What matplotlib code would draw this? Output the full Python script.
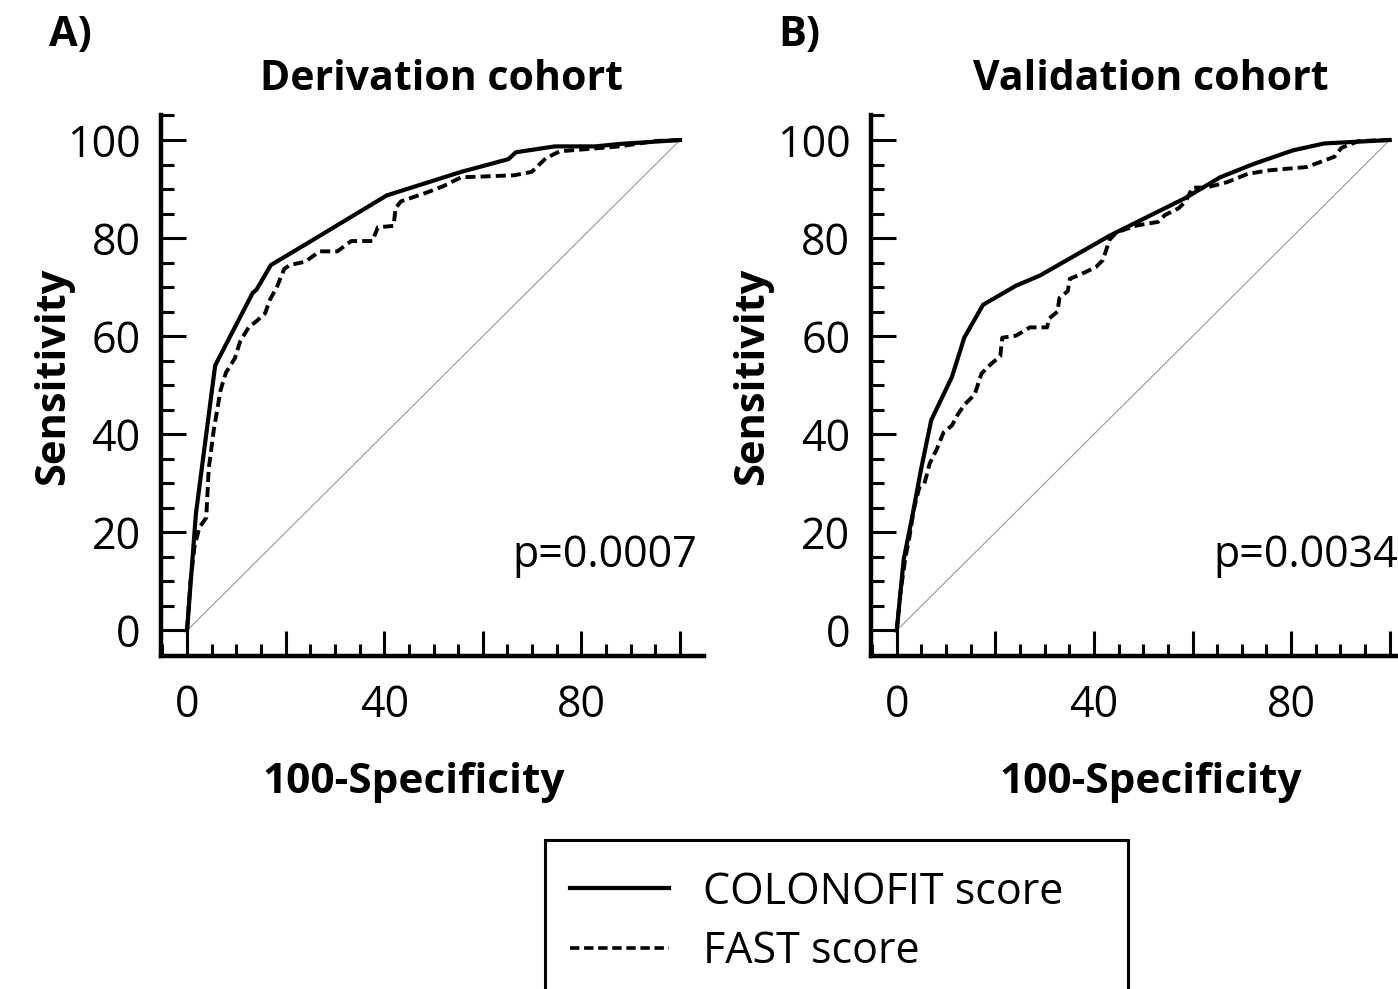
import matplotlib
matplotlib.use("Agg")
import matplotlib.pyplot as plt
from matplotlib.lines import Line2D
from matplotlib.patches import Rectangle
from matplotlib.ticker import MultipleLocator

plt.rcParams["font.family"] = ["Open Sans", "DejaVu Sans"]

# Derivation cohort (panel A)
deriv_colonofit_x = [0, 1.8, 5.7, 6.4, 13.3, 14.1, 17.0, 24.0, 40.5, 55.6, 65.2, 66.7, 74.6, 82.8, 87.8, 100]
deriv_colonofit_y = [0, 23.8, 54.0, 55.4, 68.8, 69.5, 74.5, 78.7, 88.7, 93.5, 96.1, 97.5, 98.7, 98.7, 99.2, 100]
deriv_fast_x = [0, 0.7, 1.5, 2.5, 3.9, 4.4, 5.4, 6.8, 7.9, 9.7, 10.8, 12.5, 14.0, 15.8, 16.8, 18.3,
                19.7, 20.8, 24.0, 26.9, 30.5, 33.3, 37.6, 38.7, 41.9, 42.3, 43.4, 48.4, 52.0, 55.6,
                66.3, 69.9, 72.8, 75.6, 87.8, 95.0, 100]
deriv_fast_y = [0, 10.0, 17.0, 21.0, 23.0, 33.0, 40.7, 49.0, 52.6, 55.5, 59.0, 61.8, 63.0, 64.6, 67.4, 70.2,
                73.7, 74.5, 75.2, 77.3, 77.3, 79.4, 79.4, 82.2, 82.5, 86.1, 87.5, 89.2, 90.6, 92.4,
                92.8, 93.5, 96.3, 97.7, 98.7, 99.8, 100]

# Validation cohort (panel B)
valid_colonofit_x = [0, 1.4, 3.2, 4.9, 7.0, 11.2, 13.7, 17.5, 24.2, 29.1, 43.2, 58.6, 65.6, 72.6, 80.4, 86.7, 100]
valid_colonofit_y = [0, 14.4, 23.5, 32.7, 42.9, 51.7, 59.7, 66.4, 70.3, 72.4, 80.5, 88.2, 92.4, 95.2, 97.9, 99.3, 100]
valid_fast_x = [0, 0.7, 1.8, 2.5, 3.5, 4.6, 5.6, 6.7, 8.1, 9.5, 11.2, 12.3, 13.7, 15.8, 17.2, 19.3,
                21.0, 21.4, 24.2, 27.0, 30.5, 30.9, 32.6, 33.0, 34.7, 35.1, 37.5, 40.4, 41.8, 43.2,
                44.6, 48.8, 53.0, 54.4, 57.2, 58.6, 60.0, 62.8, 67.0, 71.2, 75.4, 83.2, 88.8, 90.2,
                93.7, 100]
valid_fast_y = [0, 7.4, 15.1, 18.6, 24.9, 29.2, 29.9, 34.1, 36.9, 40.4, 41.8, 43.9, 46.0, 48.1, 52.4, 54.5,
                55.9, 59.7, 60.1, 61.8, 61.8, 63.6, 65.0, 67.8, 69.2, 71.7, 72.7, 74.1, 75.5, 79.7,
                81.2, 82.6, 83.3, 84.7, 86.1, 87.5, 90.3, 90.3, 91.4, 93.1, 93.8, 94.5, 96.6, 98.4,
                99.8, 100]

panel_titles = ["Derivation cohort", "Validation cohort"]
panel_letters = ["A)", "B)"]
p_values = ["p=0.0007", "p=0.0034"]
legend_labels = ["COLONOFIT score", "FAST score"]

W, H = 1398, 989
fig = plt.figure(figsize=(W / 100, H / 100), dpi=100)

DASH = (0, (2.6, 1.3))


def px_rect(left, top, width, height):
    return [left / W, 1 - (top + height) / H, width / W, height / H]


axes_left = [161.4, 871.1]
p_text_x = [66.0, 64.2]
curves = [
    (deriv_colonofit_x, deriv_colonofit_y, deriv_fast_x, deriv_fast_y),
    (valid_colonofit_x, valid_colonofit_y, valid_fast_x, valid_fast_y),
]

for i, (cx, cy, fx, fy) in enumerate(curves):
    ax = fig.add_axes(px_rect(axes_left[i], 115, 542.3, 540.5))
    ax.set_xlim(-5.2, 104.8)
    ax.set_ylim(-5.1, 105.1)

    ax.plot([0, 100], [0, 100], color="#8a8a8a", lw=0.7)
    ax.plot(fx, fy, color="black", lw=2.8, linestyle=DASH)
    ax.plot(cx, cy, color="black", lw=3.0)

    for side in ("top", "right"):
        ax.spines[side].set_visible(False)
    for side in ("left", "bottom"):
        ax.spines[side].set_linewidth(3.2)

    ax.xaxis.set_minor_locator(MultipleLocator(5))
    ax.yaxis.set_major_locator(MultipleLocator(20))
    ax.yaxis.set_minor_locator(MultipleLocator(5))
    ax.set_xticks([0, 20, 40, 60, 80, 100])
    ax.set_xticklabels(["0", "", "40", "", "80", ""])
    ax.tick_params(which="major", direction="in", length=18, width=2.2, labelsize=31)
    ax.tick_params(which="minor", direction="in", length=9, width=2.2)
    ax.tick_params(axis="y", pad=15)
    ax.tick_params(axis="x", pad=20)

    ax.text(p_text_x[i], 12.9, p_values[i], fontsize=31, ha="left", va="baseline")

# titles, panel letters, axis labels
fig.text(441 / W, 1 - 90 / H, panel_titles[0], fontsize=29.5, fontweight="bold", ha="center", va="baseline")
fig.text(1151 / W, 1 - 90 / H, panel_titles[1], fontsize=29.5, fontweight="bold", ha="center", va="baseline")
fig.text(49 / W, 1 - 46 / H, panel_letters[0], fontsize=30, fontweight="bold", ha="left", va="baseline")
fig.text(778 / W, 1 - 46 / H, panel_letters[1], fontsize=30, fontweight="bold", ha="left", va="baseline")
fig.text(414 / W, 1 - 793 / H, "100-Specificity", fontsize=30.5, fontweight="bold", ha="center", va="baseline")
fig.text(1151 / W, 1 - 793 / H, "100-Specificity", fontsize=30.5, fontweight="bold", ha="center", va="baseline")
fig.text(54 / W, 1 - 376 / H, "Sensitivity", fontsize=30, fontweight="bold", rotation=90,
         ha="center", va="center")
fig.text(753 / W, 1 - 376 / H, "Sensitivity", fontsize=30, fontweight="bold", rotation=90,
         ha="center", va="center")

# legend box (runs off the bottom edge like the source)
fig.patches.append(Rectangle((545 / W, -0.05), (1128 - 545) / W, (989 - 840) / H + 0.05,
                             transform=fig.transFigure, fill=False, lw=2.2, edgecolor="black"))
handles = [Line2D([], [], color="black", lw=3.0),
           Line2D([], [], color="black", lw=2.6, linestyle=(0, (2.6, 1.3)))]
fig.legend(handles, legend_labels, loc="upper left", bbox_to_anchor=(570 / W, 1 - 870 / H),
           frameon=False, fontsize=31, handlelength=2.3, handletextpad=0.8,
           labelspacing=0.35, borderpad=0, borderaxespad=0)

fig.savefig("out.png", dpi=100)
